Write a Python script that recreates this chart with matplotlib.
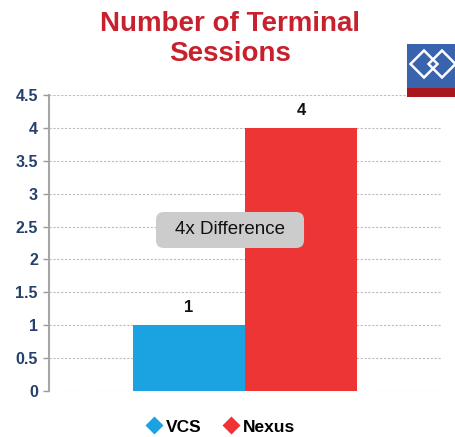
import matplotlib
matplotlib.use("Agg")
import matplotlib.pyplot as plt
from matplotlib.patches import Rectangle, Polygon, FancyBboxPatch
from matplotlib.lines import Line2D

plt.rcParams['font.family'] = ['Liberation Sans', 'DejaVu Sans']

# data
series = ['VCS', 'Nexus']
values = [1, 4]
colors = ['#1aa3e0', '#ee3535']
yticks = [0, 0.5, 1, 1.5, 2, 2.5, 3, 3.5, 4, 4.5]
ytick_labels = ['0', '0.5', '1', '1.5', '2', '2.5', '3', '3.5', '4', '4.5']
note = '4x Difference'

fig = plt.figure(figsize=(4.55, 4.37), dpi=100)
ax = fig.add_axes([49/455, 46/437, 392/455, 296/437])

width = 0.2857
offsets = [-width/2, width/2]
for off, v, c in zip(offsets, values, colors):
    ax.bar(off, v, width=width, color=c, zorder=3)
    ax.text(off, v + 0.15, str(v), ha='center', va='bottom',
            fontsize=12, fontweight='bold', color='#111111', zorder=4)

ax.set_xlim(-0.5, 0.5)
ax.set_ylim(0, 4.5)
ax.set_yticks(yticks)
ax.set_yticklabels(ytick_labels)
ax.set_xticks([])
for lab in ax.get_yticklabels():
    lab.set_fontweight('bold')
    lab.set_color('#25406e')
    lab.set_fontsize(11.5)
ax.tick_params(axis='y', length=4, width=1, color='#999999', pad=4)
ax.grid(axis='y', linestyle=(0, (2, 1.5)), color='#bbbbbb', linewidth=0.8, zorder=0)
for s in ['top', 'right', 'bottom']:
    ax.spines[s].set_visible(False)
ax.spines['left'].set_color('#a6a6a6')
ax.spines['left'].set_linewidth(1.5)

# annotation box (rounded, same corner radius in x and y)
aspect = (392 / 1.0) / (296 / 4.5)
box = FancyBboxPatch((-0.227, 2.174), 0.3776, 0.547,
                     boxstyle='round,pad=0,rounding_size=0.02', mutation_aspect=aspect,
                     fc='#cccccc', ec='none', zorder=5, transform=ax.transData)
ax.add_patch(box)
ax.text(-0.038, 2.448, note, ha='center', va='center', fontsize=13.5,
        color='#111111', zorder=6)

# title
fig.text(230/455, 1 - 39/437, 'Number of Terminal\nSessions', ha='center', va='center',
         fontsize=20, fontweight='bold', color='#c8202c', linespacing=1.2)

# legend
handles = [Line2D([0], [0], marker='D', color='none', markerfacecolor=c,
                  markeredgecolor='none', markersize=9) for c in colors]
fig.legend(handles, series, loc='center', bbox_to_anchor=(221/455, 1 - 427/437),
           ncol=2, frameon=False, handlelength=0.8, handletextpad=0.3, columnspacing=1.3,
           prop={'weight': 'bold', 'size': 12.5})

# logo top right
lx0, ly0, lw, lh = 407/455, 1 - 97/437, 48/455, 53/437
fig.patches.append(Rectangle((lx0, ly0 + 9/437), lw, lh - 9/437, transform=fig.transFigure,
                             fc='#3a63ad', ec='none'))
fig.patches.append(Rectangle((lx0, ly0), lw, 9/437, transform=fig.transFigure,
                             fc='#a9171e', ec='none'))
def diamond(cx, cy, r):
    pts = [(cx - r, cy), (cx, cy + r), (cx + r, cy), (cx, cy - r)]
    return Polygon([(x/455, 1 - y/437) for x, y in pts], closed=True, fill=False,
                   ec='white', lw=1.8, transform=fig.transFigure)
fig.patches.append(diamond(424, 64, 13.5))
fig.patches.append(diamond(442, 64, 13.5))

fig.savefig('out.png', dpi=100)
